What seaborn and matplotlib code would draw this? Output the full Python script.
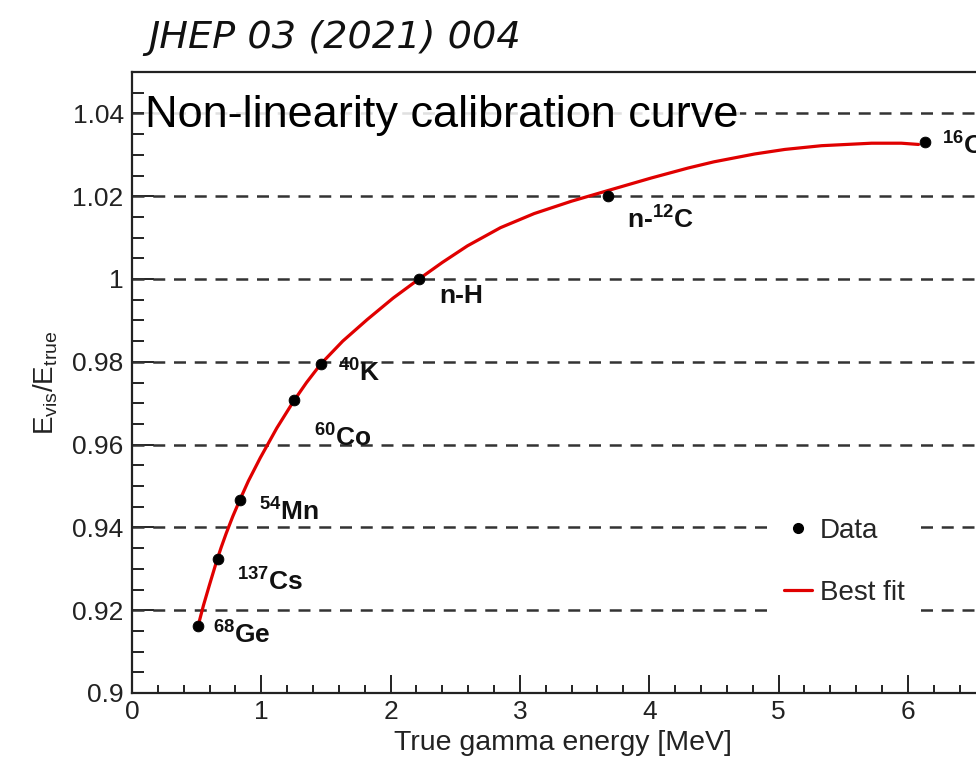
import matplotlib
matplotlib.use("Agg")
import matplotlib.pyplot as plt
import seaborn as sns
import pandas as pd
from matplotlib.ticker import MultipleLocator, FuncFormatter
from matplotlib.lines import Line2D

# ---- data ----
energy = [0.511, 0.662, 0.835, 1.25, 1.461, 2.223, 3.685, 6.13]
ratio = [0.9162, 0.9323, 0.9467, 0.9707, 0.9795, 1.0000, 1.0200, 1.0331]
source_labels = [r"$\mathbf{^{68}Ge}$", r"$\mathbf{^{137}Cs}$", r"$\mathbf{^{54}Mn}$",
                 r"$\mathbf{^{60}Co}$", r"$\mathbf{^{40}K}$", "n-H",
                 r"n-$\mathbf{^{12}C}$", r"$\mathbf{^{16}O}$"]
fit_x = [0.511, 0.553, 0.60, 0.656, 0.69, 0.729, 0.78, 0.835, 0.90, 0.992, 1.12,
         1.25, 1.35, 1.461, 1.63, 1.819, 2.02, 2.22, 2.40, 2.594, 2.85, 3.11,
         3.40, 3.685, 4.016, 4.30, 4.50, 4.816, 5.05, 5.333, 5.72, 5.95, 6.083]
fit_y = [0.9162, 0.9212, 0.9262, 0.9320, 0.9352, 0.9386, 0.9427, 0.9467, 0.9512, 0.9568, 0.9640,
         0.9705, 0.9750, 0.9795, 0.9850, 0.9902, 0.9954, 1.0000, 1.0040, 1.0080, 1.0124, 1.0158,
         1.0188, 1.0214, 1.0244, 1.0268, 1.0283, 1.0302, 1.0313, 1.0322, 1.0328, 1.0328, 1.0325]
y_ticks = [0.90, 0.92, 0.94, 0.96, 0.98, 1.00, 1.02, 1.04]
x_ticks = [0, 1, 2, 3, 4, 5, 6]

# label offsets in pixels (dx right, dy down) from each point
label_off_px = [(14.7, 9), (19.3, 23), (18.6, 12), (20.6, 38), (17.3, 9),
                (20, 17.4), (19, 24), (17, 4)]

sns.set_theme(style="ticks")
plt.rcParams['font.family'] = ['Liberation Sans', 'DejaVu Sans']
plt.rcParams['mathtext.fontset'] = 'custom'
plt.rcParams['mathtext.rm'] = 'Liberation Sans'
plt.rcParams['mathtext.bf'] = 'Liberation Sans:bold'
plt.rcParams['mathtext.it'] = 'Liberation Sans:italic'

W, H = 976, 758
fig = plt.figure(figsize=(W / 100, H / 100), dpi=100)
ax_left, ax_bottom, ax_top = 132, 693, 72
ax = fig.add_axes([ax_left / W, 1 - ax_bottom / H, 1 - ax_left / W, (ax_bottom - ax_top) / H])

fit_df = pd.DataFrame({"x": fit_x, "y": fit_y})
pts_df = pd.DataFrame({"x": energy, "y": ratio})

for yv in y_ticks[1:]:
    ax.axhline(yv, color="#333333", lw=1.8, ls=(0, (4.8, 3.5)), zorder=1)

sns.lineplot(data=fit_df, x="x", y="y", ax=ax, color="#e00000", lw=2.3,
             sort=False, estimator=None, zorder=3)
sns.scatterplot(data=pts_df, x="x", y="y", ax=ax, color="black", s=60,
                edgecolor="black", zorder=4)

for (xv, yv, lab, (dx, dy)) in zip(energy, ratio, source_labels, label_off_px):
    ax.annotate(lab, (xv, yv), xytext=(dx * 0.72, -dy * 0.72), textcoords="offset points",
                ha="left", va="center", fontsize=19, fontweight="bold",
                color="#111111", annotation_clip=False, zorder=5)

ax.text(0.10, 1.0367, "Non-linearity calibration curve", fontsize=32.5, color="black",
        ha="left", va="baseline", zorder=5,
        bbox=dict(facecolor="white", edgecolor="none", alpha=0.85, pad=1))

ax.set_xlim(0, (W - ax_left) / 129.3)
ax.set_ylim(0.90, 1.05)
ax.set_xticks(x_ticks)
ax.set_yticks(y_ticks)
ax.xaxis.set_minor_locator(MultipleLocator(0.2))
ax.yaxis.set_minor_locator(MultipleLocator(0.005))
ax.yaxis.set_major_formatter(FuncFormatter(lambda v, p: f"{v:g}"))
ax.tick_params(axis="both", which="both", direction="in", colors="#222222",
               labelsize=19, width=1.4)
ax.tick_params(axis="y", which="major", length=16, pad=6)
ax.tick_params(axis="y", which="minor", length=8.5)
ax.tick_params(axis="x", which="major", length=13, pad=5)
ax.tick_params(axis="x", which="minor", length=5.8)
for s in ["left", "bottom", "top"]:
    ax.spines[s].set_linewidth(1.6)
    ax.spines[s].set_color("#222222")
ax.spines["right"].set_visible(False)

ax.set_xlabel("True gamma energy [MeV]", fontsize=20.5, color="#222222")
ax.set_ylabel(r"$\mathrm{E_{vis}/E_{true}}$", fontsize=20, color="#222222")
ax.xaxis.set_label_coords((563 - ax_left) / (W - ax_left), -0.059)
ax.yaxis.set_label_coords(-0.085, 0.5)

handles = [Line2D([], [], marker="o", color="black", ls="none", markersize=7),
           Line2D([], [], color="#e00000", lw=2.3)]
leg = ax.legend(handles, ["Data", "Best fit"], loc="center left",
                bbox_to_anchor=((774 - ax_left) / (W - ax_left), (693 - 562) / 621),
                fontsize=20, frameon=True, fancybox=False, framealpha=1,
                facecolor="white", edgecolor="none", handlelength=1.0,
                handletextpad=0.3, labelspacing=1.31, borderpad=0.35,
                borderaxespad=0)
leg.set_zorder(6)

fig.text(148 / W, 1 - 38 / H, "JHEP 03 (2021) 004", fontsize=27.5, style="italic",
         family=["DejaVu Sans"], color="#111111", ha="left", va="center")

fig.savefig("out.png", dpi=100)
